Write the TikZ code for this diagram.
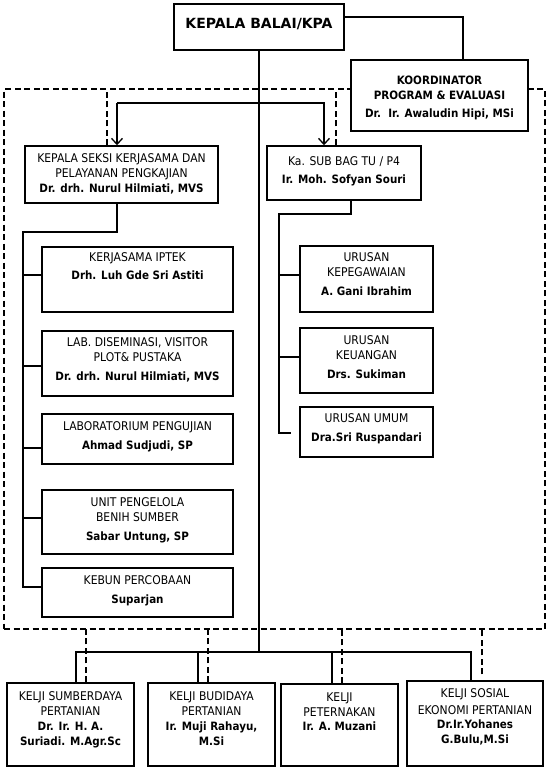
\documentclass[tikz,border=0pt]{standalone}
\usepackage{fontspec}
\setmainfont[FakeStretch=0.9]{DejaVu Sans}
\newfontfamily\titlefont{DejaVu Sans}
\usetikzlibrary{positioning,arrows.meta}

\newcommand{\nm}[1]{{\fontsize{11.5}{14}\selectfont\bfseries #1}}

\tikzset{
  box/.style={draw, line width=1.5pt, fill=white, inner sep=0pt},
  txt/.style={align=center, inner sep=0pt, font=\fontsize{12}{14.5}\selectfont},
  link/.style={line width=1.3pt},
  dashlink/.style={line width=1.3pt, dash pattern=on 6pt off 3.5pt},
  tip/.style={-{Straight Barb[length=6pt,width=11pt]}},
}

\begin{document}
\begin{tikzpicture}[x=1pt, y=-1pt]
\useasboundingbox (0,0) rectangle (554,769);

% dashed frame round the units
\node[draw, dashlink, inner sep=0pt, minimum width=541, minimum height=540] (group) at (274.5,359) {};

% top
\node[box, minimum width=170, minimum height=46] (kepala) at (259,27) {};
\node[txt, below=15pt of kepala.north] (kepala-t) {\titlefont\fontsize{14}{16}\selectfont\bfseries KEPALA BALAI/KPA};
\node[box, minimum width=177, minimum height=71] (koord) at (439.5,95.5) {};
\node[txt, below=17pt of koord.north] (koord-t) {\nm{KOORDINATOR}\\\nm{PROGRAM \& EVALUASI}\\[3.5pt]\nm{Dr.~~Ir. Awaludin Hipi, MSi}};

% second level
\node[box, minimum width=193, minimum height=57] (seksi) at (121.5,174.5) {};
\node[txt, below=8.5pt of seksi.north] (seksi-t) {KEPALA SEKSI KERJASAMA DAN\\PELAYANAN PENGKAJIAN\\[1pt]\nm{Dr. drh. Nurul Hilmiati, MVS}};
\node[box, minimum width=154, minimum height=54] (kasub) at (344,173) {};
\node[txt, below=11.5pt of kasub.north] (kasub-t) {Ka. SUB BAG TU / P4\\[3.5pt]\nm{Ir. Moh. Sofyan Souri}};

% left column
\node[box, minimum width=191, minimum height=65] (iptek) at (137.5,279.5) {};
\node[txt, below=6.5pt of iptek.north] (iptek-t) {KERJASAMA IPTEK\\[3.5pt]\nm{Drh. Luh Gde Sri Astiti}};
\node[box, minimum width=191, minimum height=65] (lab) at (137.5,363.5) {};
\node[txt, below=7.5pt of lab.north] (lab-t) {LAB. DISEMINASI, VISITOR\\PLOT\& PUSTAKA\\[4.5pt]\nm{Dr. drh. Nurul Hilmiati, MVS}};
\node[box, minimum width=191, minimum height=50] (uji) at (137.5,439) {};
\node[txt, below=8.5pt of uji.north] (uji-t) {LABORATORIUM PENGUJIAN\\[4.5pt]\nm{Ahmad Sudjudi, SP}};
\node[box, minimum width=191, minimum height=64] (unit) at (137.5,522) {};
\node[txt, below=8.5pt of unit.north] (unit-t) {UNIT PENGELOLA\\BENIH SUMBER\\[4.5pt]\nm{Sabar Untung, SP}};
\node[box, minimum width=191, minimum height=49] (kebun) at (137.5,592.5) {};
\node[txt, below=8.5pt of kebun.north] (kebun-t) {KEBUN PERCOBAAN\\[4pt]\nm{Suparjan}};

% right column
\node[box, minimum width=133, minimum height=66] (pegawai) at (366.5,279) {};
\node[txt, below=7.5pt of pegawai.north] (pegawai-t) {URUSAN\\KEPEGAWAIAN\\[5pt]\nm{A. Gani Ibrahim}};
\node[box, minimum width=133, minimum height=65] (uang) at (366.5,360.5) {};
\node[txt, below=8.5pt of uang.north] (uang-t) {URUSAN\\KEUANGAN\\[4.5pt]\nm{Drs. Sukiman}};
\node[box, minimum width=133, minimum height=50] (umum) at (366.5,432) {};
\node[txt, below=7.5pt of umum.north] (umum-t) {URUSAN UMUM\\[4.5pt]\nm{Dra.Sri Ruspandari}};

% kelji row
\node[box, minimum width=127, minimum height=83] (kelji1) at (70.5,724.5) {};
\node[txt, below=9.5pt of kelji1.north] (kelji1-t) {KELJI SUMBERDAYA\\PERTANIAN\\[1pt]\nm{Dr. Ir. H. A.}\\\nm{Suriadi. M.Agr.Sc}};
\node[box, minimum width=127, minimum height=83] (kelji2) at (211.5,724.5) {};
\node[txt, below=9.5pt of kelji2.north] (kelji2-t) {KELJI BUDIDAYA\\PERTANIAN\\[1pt]\nm{Ir. Muji Rahayu,}\\\nm{M.Si}};
\node[box, minimum width=117, minimum height=82] (kelji3) at (339.5,725) {};
\node[txt, below=9.5pt of kelji3.north] (kelji3-t) {KELJI\\PETERNAKAN\\\nm{Ir. A. Muzani}};
\node[box, minimum width=136, minimum height=85] (kelji4) at (475,723.5) {};
\node[txt, below=8.5pt of kelji4.north] (kelji4-t) {KELJI SOSIAL\\[2pt]EKONOMI PERTANIAN\\\nm{Dr.Ir.Yohanes}\\\nm{G.Bulu,M.Si}};

% lines
\coordinate (hub) at (259,652);
\coordinate (ja) at (117,103);
\coordinate (jb) at (324,103);
\coordinate (lb) at (23,232);
\coordinate (rb) at (279,214);

\draw[link] (kepala.south) -- (hub);
\draw[link] ([yshift=10pt]kepala.east) -| ([xshift=23.5pt]koord.north);
\draw[link, tip] (ja) -- (ja |- seksi.north);
\draw[link, tip] (ja) -- (jb) -- (jb |- kasub.north);

\draw[link] ([xshift=-4.5pt]seksi.south) |- (lb) |- ([yshift=5.5pt]kebun.west);
\draw[link] ([yshift=4.5pt]iptek.west) -- ++(-19,0);
\draw[link] ([yshift=-2.5pt]lab.west) -- ++(-19,0);
\draw[link] ([yshift=-9pt]uji.west) -- ++(-19,0);
\draw[link] ([yshift=4pt]unit.west) -- ++(-19,0);

\draw[link, shorten >=8pt] ([xshift=7pt]kasub.south) |- (rb) |- ([yshift=-1pt]umum.west);
\draw[link] ([yshift=4pt]pegawai.west) -- ++(-21,0);
\draw[link] ([yshift=3.5pt]uang.west) -- ++(-21,0);

\draw[link] ([xshift=5.5pt]kelji1.north) |- (hub) -| ([xshift=-4pt]kelji4.north);
\draw[link] ([xshift=-13.5pt]kelji2.north) |- (hub);
\draw[link] ([xshift=-7.5pt]kelji3.north) |- (hub);

% dashed ties
\draw[dashlink] ([xshift=-14.5pt]seksi.north) -- ++(0,-57);
\draw[dashlink] ([xshift=-8pt]kasub.north) -- ++(0,-57);
\draw[dashlink] ([xshift=15.5pt]kelji1.north) -- ++(0,-54);
\draw[dashlink] ([xshift=-3.5pt]kelji2.north) -- ++(0,-54);
\draw[dashlink] ([xshift=2.5pt]kelji3.north) -- ++(0,-54);
\draw[dashlink] ([xshift=7pt]kelji4.north) ++(0,-6) -- ++(0,-46);
\end{tikzpicture}
\end{document}
